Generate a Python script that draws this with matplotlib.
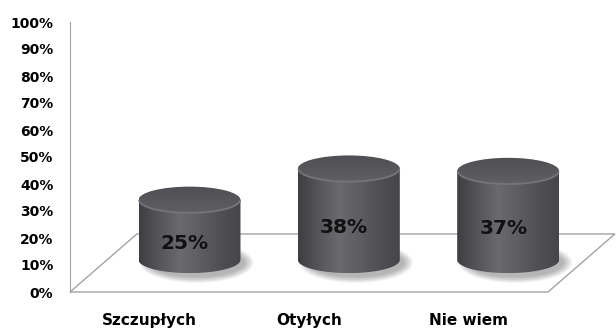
import numpy as np
import matplotlib
matplotlib.use("Agg")
import matplotlib.pyplot as plt
from matplotlib.patches import Ellipse, PathPatch, Polygon
from matplotlib.path import Path
from matplotlib.colors import LinearSegmentedColormap

categories = ["Szczupłych", "Otyłych", "Nie wiem"]
values = [25, 38, 37]
yticks = [0, 10, 20, 30, 40, 50, 60, 70, 80, 90, 100]

# 3D look: floor depth, cylinder placement and perspective shrink (data units)
DEPTH_X, DEPTH_Y = 0.42, 21.5
CYL_DX, CYL_BASE = 0.25, 11.9
CYL_W, CYL_E = 0.64, 9.8
HEIGHT_SCALE = 0.889

body_cmap = LinearSegmentedColormap.from_list(
    "body", ["#3e3e42", "#55555a", "#6a6a6e", "#5e5e62", "#505054", "#46464a"])
top_cmap = LinearSegmentedColormap.from_list("top", ["#606064", "#4f4f53"])

fig = plt.figure(figsize=(6.16, 3.28), dpi=100)
ax = fig.add_axes([70 / 616, 36 / 328, 478 / 616, 270 / 328])


def draw_cylinder(ax, xc, value):
    h = value * HEIGHT_SCALE
    x0, x1 = xc - CYL_W / 2, xc + CYL_W / 2
    yb, yt = CYL_BASE, CYL_BASE + h

    # soft shadow on the floor, thrown slightly to the right
    for k in range(10):
        ax.add_patch(Ellipse((xc + 0.045, yb - 1.0),
                             CYL_W * (1.12 - k * 0.02), CYL_E * (1.55 - k * 0.05),
                             facecolor="black", edgecolor="none", alpha=0.03,
                             zorder=2, clip_on=False))

    # body with horizontal shading
    t = np.linspace(np.pi, 2 * np.pi, 80)
    verts = [(x0, yt)] + list(zip(xc + CYL_W / 2 * np.cos(t), yb + CYL_E / 2 * np.sin(t)))
    verts += [(x1, yt), (x0, yt)]
    body = PathPatch(Path(verts), facecolor="none", edgecolor="none", zorder=3, clip_on=False)
    ax.add_patch(body)
    grad = np.linspace(0, 1, 256).reshape(1, -1)
    im = ax.imshow(grad, cmap=body_cmap, extent=[x0, x1, yb - CYL_E / 2, yt],
                   aspect="auto", interpolation="bicubic", zorder=3)
    im.set_clip_box(fig.bbox)
    im.set_clip_path(body)

    # top cap
    cap = Ellipse((xc, yt), CYL_W, CYL_E, facecolor="none", edgecolor="none",
                  zorder=4, clip_on=False)
    ax.add_patch(cap)
    vgrad = np.linspace(0, 1, 64).reshape(-1, 1)
    im2 = ax.imshow(vgrad, cmap=top_cmap, extent=[x0, x1, yt - CYL_E / 2, yt + CYL_E / 2],
                    origin="lower", aspect="auto", interpolation="bicubic", zorder=4)
    im2.set_clip_box(fig.bbox)
    im2.set_clip_path(cap)

    # light rim along the front of the cap
    ta = np.linspace(np.radians(185), np.radians(355), 60)
    ax.plot(xc + CYL_W * 0.495 * np.cos(ta), yt + CYL_E * 0.49 * np.sin(ta),
            color="#74747a", lw=1.3, zorder=5, clip_on=False)

    ax.text(xc - 0.03, yb + h / 2 - CYL_E / 2, f"{value}%", ha="center", va="center",
            fontsize=14.5, fontweight="bold", color="#111111", zorder=6)


# floor
n = len(categories)
floor = Polygon([(0, 0), (n, 0), (n + DEPTH_X, DEPTH_Y), (DEPTH_X, DEPTH_Y)],
                closed=True, facecolor="white", edgecolor="#a3a3a3", lw=1.0,
                zorder=1, clip_on=False)
ax.add_patch(floor)

for i, v in enumerate(values):
    draw_cylinder(ax, i + 0.5 + CYL_DX, v)

ax.set_xlim(0, n)
ax.set_ylim(0, 100)
ax.set_aspect("auto")

ax.set_yticks(yticks)
ax.set_yticklabels([f"{t}%" for t in yticks], fontsize=10, fontweight="bold")
ax.set_xticks([i + 0.5 for i in range(n)])
ax.set_xticklabels(categories, fontsize=11, fontweight="bold")
ax.tick_params(axis="y", length=0, pad=12)
ax.tick_params(axis="x", length=0, pad=15)

for side in ["top", "right", "bottom"]:
    ax.spines[side].set_visible(False)
ax.spines["left"].set_color("#a3a3a3")
ax.patch.set_alpha(0)

fig.savefig("out.png", dpi=100)
